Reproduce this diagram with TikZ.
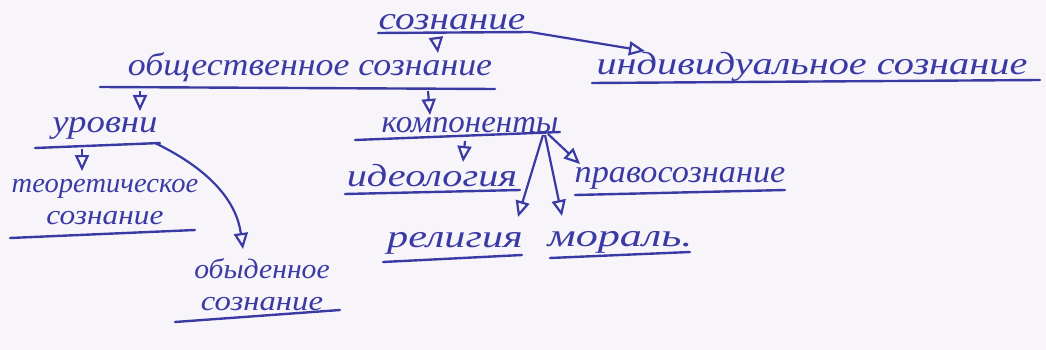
\documentclass[tikz,border=0pt]{standalone}
\usepackage{fontspec}
\setmainfont{Liberation Serif}
\usetikzlibrary{arrows.meta,calc}
\definecolor{ink}{RGB}{58,58,165}
\definecolor{paper}{RGB}{248,245,250}
\newcommand{\sx}[2]{\scalebox{#1}[1]{#2}}
\tikzset{
  lbl/.style={inner sep=0pt, text=ink, font=\itshape\fontsize{32}{34}\selectfont, align=center},
  lbltwo/.style={lbl, font=\itshape\fontsize{28}{32}\selectfont},
  ul/.style={draw=ink, line width=2.4pt, line cap=round},
  arr/.style={draw=ink, line width=2.2pt, -{Triangle[open,length=16pt,width=14pt,line width=2.2pt]}},
}
\begin{document}
\begin{tikzpicture}[x=1pt,y=-1pt]
\fill[paper] (0,0) rectangle (1046,350);
\useasboundingbox (0,0) rectangle (1046,350);
\node[lbl] (soz) at (452,22) {\sx{1.23}{сознание}};
\node[lbl] (obsh) at (310,67) {\sx{1.12}{общественное сознание}};
\node[lbl] (ind) at (812,67) {\sx{1.26}{индивидуальное сознание}};
\node[lbl] (urov) at (105,128) {\sx{1.15}{уровни}};
\node[lbl] (komp) at (470,125) {\sx{1.03}{компоненты}};
\node[lbltwo] (teor) at (105,202) {\sx{1.02}{теоретическое}\\\sx{1.12}{сознание}};
\node[lbltwo] (obyd) at (262,285) {\sx{1.06}{обыденное}\\\sx{1.17}{сознание}};
\node[lbl] (ideo) at (432,176) {\sx{1.26}{идеология}};
\node[lbl] (pravo) at (680,178) {\sx{1.07}{правосознание}};
\node[lbl] (relig) at (455,243) {\sx{1.32}{религия}};
\node[lbl] (moral) at (620,242) {\sx{1.38}{мораль.}};
% underlines
\draw[ul] ($(soz)+(-74,11)$) -- ($(soz)+(78,10)$);
\draw[ul] ($(obsh)+(-210,20)$) -- ($(obsh)+(185,22)$);
\draw[ul] ($(ind)+(-220,16)$) -- ($(ind)+(228,13)$);
\draw[ul] ($(urov)+(-70,20)$) -- ($(urov)+(55,15)$);
\draw[ul] ($(teor)+(-95,36)$) -- ($(teor)+(90,28)$);
\draw[ul] ($(obyd)+(-87,37)$) -- ($(obyd)+(78,25)$);
\draw[ul] ($(komp)+(-115,15)$) -- ($(komp)+(90,7)$);
\draw[ul] ($(ideo)+(-87,18)$) -- ($(ideo)+(88,14)$);
\draw[ul] ($(pravo)+(-105,17)$) -- ($(pravo)+(105,12)$);
\draw[ul] ($(relig)+(-72,19)$) -- ($(relig)+(67,12)$);
\draw[ul] ($(moral)+(-70,16)$) -- ($(moral)+(70,10)$);
% connectors
\draw[arr] ($(soz)+(78,10)$) -- ($(ind)+(-167,-16)$);
\draw[arr] ($(soz)+(-16,16)$) -- ($(obsh)+(128,-14)$);
\draw[arr] ($(obsh)+(-170,24)$) -- ($(urov)+(35,-17)$);
\draw[arr] ($(obsh)+(118,24)$) -- ($(komp)+(-40,-10)$);
\draw[arr] ($(urov)+(-23,21)$) -- ($(teor)+(-23,-31)$);
\draw[arr] ($(urov)+(50,15)$) .. controls ($(urov)+(110,44)$) and ($(obyd)+(-25,-80)$) .. ($(obyd)+(-19,-36)$);
\draw[arr] ($(komp)+(-5,16)$) -- ($(ideo)+(31,-14)$);
\draw[arr] ($(komp)+(78,9)$) -- ($(pravo)+(-100,-14)$);
\draw[arr] ($(komp)+(73,10)$) -- ($(relig)+(63,-26)$);
\draw[arr] ($(komp)+(75,10)$) -- ($(moral)+(-58,-26)$);
\end{tikzpicture}
\end{document}
